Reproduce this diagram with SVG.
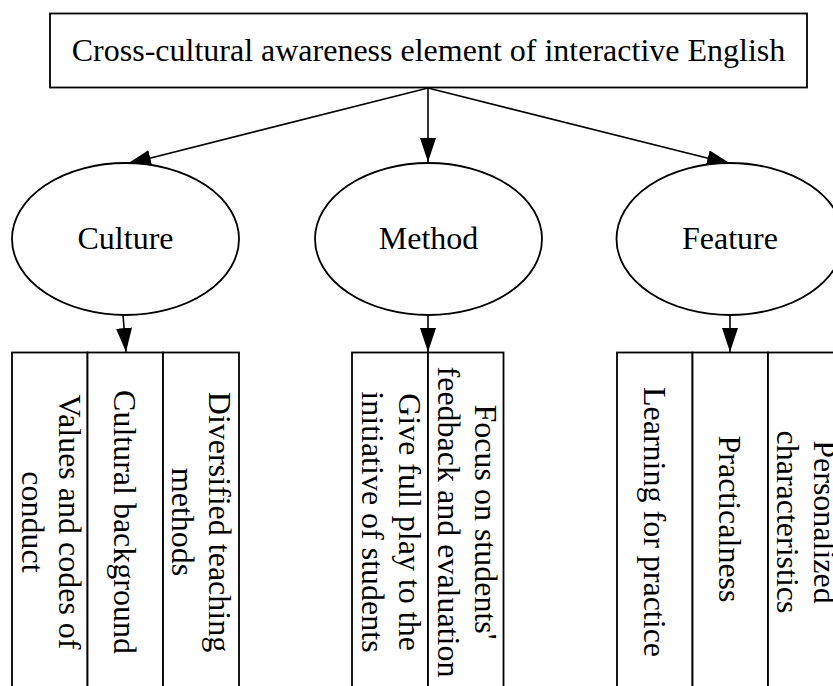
<svg xmlns="http://www.w3.org/2000/svg" width="833" height="686" viewBox="0 0 833 686">
<style>
  .shape { fill: #ffffff; stroke: #000000; stroke-width: 1.8; }
  .edge { fill: none; stroke: #000000; stroke-width: 1.6; marker-end: url(#arrow); }
  text { font-family: "Liberation Serif", "Times New Roman", serif; font-size: 32px; fill: #000000; }
  .c { text-anchor: middle; }
</style>
<defs>
  <marker id="arrow" markerUnits="userSpaceOnUse" markerWidth="26" markerHeight="18" refX="24" refY="8" orient="auto">
    <path d="M0,0 L24,8 L0,16 Z" fill="#000000"/>
  </marker>
</defs>
<rect width="833" height="686" fill="#ffffff"/>

<g id="connectors">
  <line class="edge" x1="428" y1="88" x2="127" y2="164"/>
  <line class="edge" x1="428" y1="88" x2="428" y2="162"/>
  <line class="edge" x1="428" y1="88" x2="731" y2="164"/>
  <line class="edge" x1="123" y1="315" x2="126" y2="352"/>
  <line class="edge" x1="428" y1="315" x2="428" y2="352"/>
  <line class="edge" x1="730" y1="315" x2="730" y2="352"/>
</g>

<g id="root">
  <rect class="shape" x="50" y="13.5" width="757" height="74"/>
  <text class="c" x="428.5" y="61">Cross-cultural awareness element of interactive English</text>
</g>

<g id="culture">
  <ellipse class="shape" cx="125.5" cy="239" rx="113.5" ry="76"/>
  <text class="c" x="125.5" y="249">Culture</text>
</g>
<g id="method">
  <ellipse class="shape" cx="428.5" cy="239" rx="113.5" ry="76"/>
  <text class="c" x="428.5" y="249">Method</text>
</g>
<g id="feature">
  <ellipse class="shape" cx="730" cy="239" rx="113.5" ry="76"/>
  <text class="c" x="730" y="249">Feature</text>
</g>

<g id="values">
  <rect class="shape" x="12" y="352.5" width="75.5" height="350"/>
  <text class="c" transform="rotate(90 50 522)" x="50" y="522"><tspan x="50" dy="-9">Values and codes of</tspan><tspan x="50" dy="37">conduct</tspan></text>
</g>
<g id="background">
  <rect class="shape" x="87.5" y="352.5" width="75.5" height="350"/>
  <text class="c" transform="rotate(90 125 522)" x="125" y="533">Cultural background</text>
</g>
<g id="diversified">
  <rect class="shape" x="163" y="352.5" width="76" height="350"/>
  <text class="c" transform="rotate(90 201 522)" x="201" y="522"><tspan x="201" dy="-7.5">Diversified teaching</tspan><tspan x="201" dy="37">methods</tspan></text>
</g>

<g id="initiative">
  <rect class="shape" x="352" y="352.5" width="76" height="350"/>
  <text class="c" transform="rotate(90 390 522)" x="390" y="522"><tspan x="390" dy="-9">Give full play to the</tspan><tspan x="390" dy="37">initiative of students</tspan></text>
</g>
<g id="feedback">
  <rect class="shape" x="428" y="352.5" width="75.5" height="350"/>
  <text class="c" transform="rotate(90 466 522)" x="466" y="522"><tspan x="466" dy="-9">Focus on students'</tspan><tspan x="466" dy="37">feedback and evaluation</tspan></text>
</g>

<g id="learning">
  <rect class="shape" x="617" y="352.5" width="75.5" height="350"/>
  <text class="c" transform="rotate(90 655 522)" x="655" y="533">Learning for practice</text>
</g>
<g id="practicalness">
  <rect class="shape" x="692.5" y="352.5" width="75.5" height="350"/>
  <text class="c" transform="rotate(90 730 519)" x="730" y="530">Practicalness</text>
</g>
<g id="personalized">
  <rect class="shape" x="768" y="352.5" width="76" height="350"/>
  <text class="c" transform="rotate(90 806 522)" x="806" y="522"><tspan x="806" dy="-7.5">Personalized</tspan><tspan x="806" dy="37">characteristics</tspan></text>
</g>
</svg>
